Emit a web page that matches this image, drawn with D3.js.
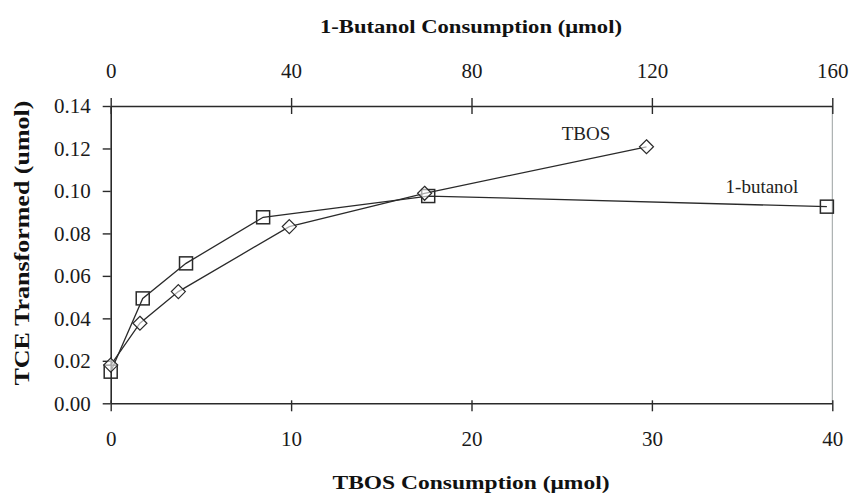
<!DOCTYPE html>
<html><head><meta charset="utf-8">
<script src="https://cdn.jsdelivr.net/npm/d3@7"></script>
<style>body{margin:0;background:#fff}svg{display:block}</style>
</head><body>
<svg id="c" width="851" height="496"></svg>
<script>
// Data
const tbosX = [0, 1.62, 3.75, 9.9, 17.4, 29.7];
const tbosY = [0.018, 0.0377, 0.0526, 0.0832, 0.0989, 0.1208];
const butX = [0, 7.1, 16.7, 33.8, 70.4, 158.8];
const butY = [0.0149, 0.0494, 0.0659, 0.0876, 0.0976, 0.0926];
const bottomTicks = [0, 10, 20, 30, 40];
const topTicks = [0, 40, 80, 120, 160];
const yTicks = [0, 0.02, 0.04, 0.06, 0.08, 0.10, 0.12, 0.14];

const svg = d3.select("#c");
const L = 110.7, R = 832.3, T = 106, B = 403.3;
const xB = d3.scaleLinear().domain([0, 40]).range([L, R]);
const xT = d3.scaleLinear().domain([0, 160]).range([L, R]);
const y = d3.scaleLinear().domain([0, 0.14]).range([B, T]);
const ink = "#2a2a2a";
const font = "Liberation Serif, Times New Roman, serif";

// right border
svg.append("line").attr("x1", R).attr("x2", R).attr("y1", T).attr("y2", B)
  .attr("stroke", "#9aa0a0").attr("stroke-width", 1);

function styleAxis(g) {
  g.attr("font-family", font).attr("font-size", 21);
  g.selectAll("path").attr("stroke", ink).attr("stroke-width", 1.6);
  g.selectAll("line").attr("stroke", ink).attr("stroke-width", 1.4);
  g.selectAll("text").style("font-family", font).style("font-size", "21px").attr("fill", "#1a1a1a");
}

const gB = svg.append("g").attr("transform", `translate(0,${B})`)
  .call(d3.axisBottom(xB).tickValues(bottomTicks).tickFormat(d3.format("d")).tickSizeInner(8).tickSizeOuter(0).tickPadding(20));
styleAxis(gB);
gB.selectAll(".tick line").attr("y1", -3);

const gT = svg.append("g").attr("transform", `translate(0,${T})`)
  .call(d3.axisTop(xT).tickValues(topTicks).tickFormat(d3.format("d")).tickSizeInner(8).tickSizeOuter(0).tickPadding(20));
styleAxis(gT);
gT.selectAll(".tick line").attr("y1", 8);

const gL = svg.append("g").attr("transform", `translate(${L},0)`)
  .call(d3.axisLeft(y).tickValues(yTicks).tickFormat(d3.format(".2f")).tickSizeInner(8).tickSizeOuter(0).tickPadding(12));
styleAxis(gL);

// lines
const lineB = d3.line().x(d => xB(d[0])).y(d => y(d[1]));
const lineT = d3.line().x(d => xT(d[0])).y(d => y(d[1]));
const tbos = tbosX.map((v, i) => [v, tbosY[i]]);
const but = butX.map((v, i) => [v, butY[i]]);

svg.append("path").attr("d", lineT(but)).attr("fill", "none").attr("stroke", ink).attr("stroke-width", 1.3);
svg.append("path").attr("d", lineB(tbos)).attr("fill", "none").attr("stroke", ink).attr("stroke-width", 1.3);

// markers
const sq = 13;
svg.selectAll(".sq").data(but).enter().append("rect")
  .attr("x", d => xT(d[0]) - sq / 2).attr("y", d => y(d[1]) - sq / 2)
  .attr("width", sq).attr("height", sq)
  .attr("fill", "none").attr("stroke", ink).attr("stroke-width", 1.5);
const dm = 7;
svg.selectAll(".dm").data(tbos).enter().append("path")
  .attr("d", d => { const cx = xB(d[0]), cy = y(d[1]); return `M${cx},${cy - dm}L${cx + dm},${cy}L${cx},${cy + dm}L${cx - dm},${cy}Z`; })
  .attr("fill", "#fff").attr("fill-opacity", 0.6).attr("stroke", ink).attr("stroke-width", 1.2);

// series labels
svg.append("text").attr("x", 586).attr("y", 140).attr("text-anchor", "middle")
  .attr("font-family", font).attr("font-size", 19).attr("fill", "#222").text("TBOS");
svg.append("text").attr("x", 762).attr("y", 193).attr("text-anchor", "middle")
  .attr("font-family", font).attr("font-size", 19).attr("fill", "#222").text("1-butanol");

// titles
svg.append("text").attr("x", 471).attr("y", 33).attr("text-anchor", "middle")
  .attr("font-family", font).attr("font-weight", "bold").attr("font-size", 19)
  .attr("textLength", 302).attr("lengthAdjust", "spacingAndGlyphs").attr("fill", "#111")
  .text("1-Butanol Consumption (\u03bcmol)");
svg.append("text").attr("x", 471).attr("y", 489).attr("text-anchor", "middle")
  .attr("font-family", font).attr("font-weight", "bold").attr("font-size", 19)
  .attr("textLength", 277).attr("lengthAdjust", "spacingAndGlyphs").attr("fill", "#111")
  .text("TBOS Consumption (\u03bcmol)");
svg.append("text").attr("transform", "translate(29,243) rotate(-90)").attr("text-anchor", "middle")
  .attr("font-family", font).attr("font-weight", "bold").attr("font-size", 20)
  .attr("textLength", 285).attr("lengthAdjust", "spacingAndGlyphs").attr("fill", "#111")
  .text("TCE Transformed (umol)");
</script>
</body></html>
